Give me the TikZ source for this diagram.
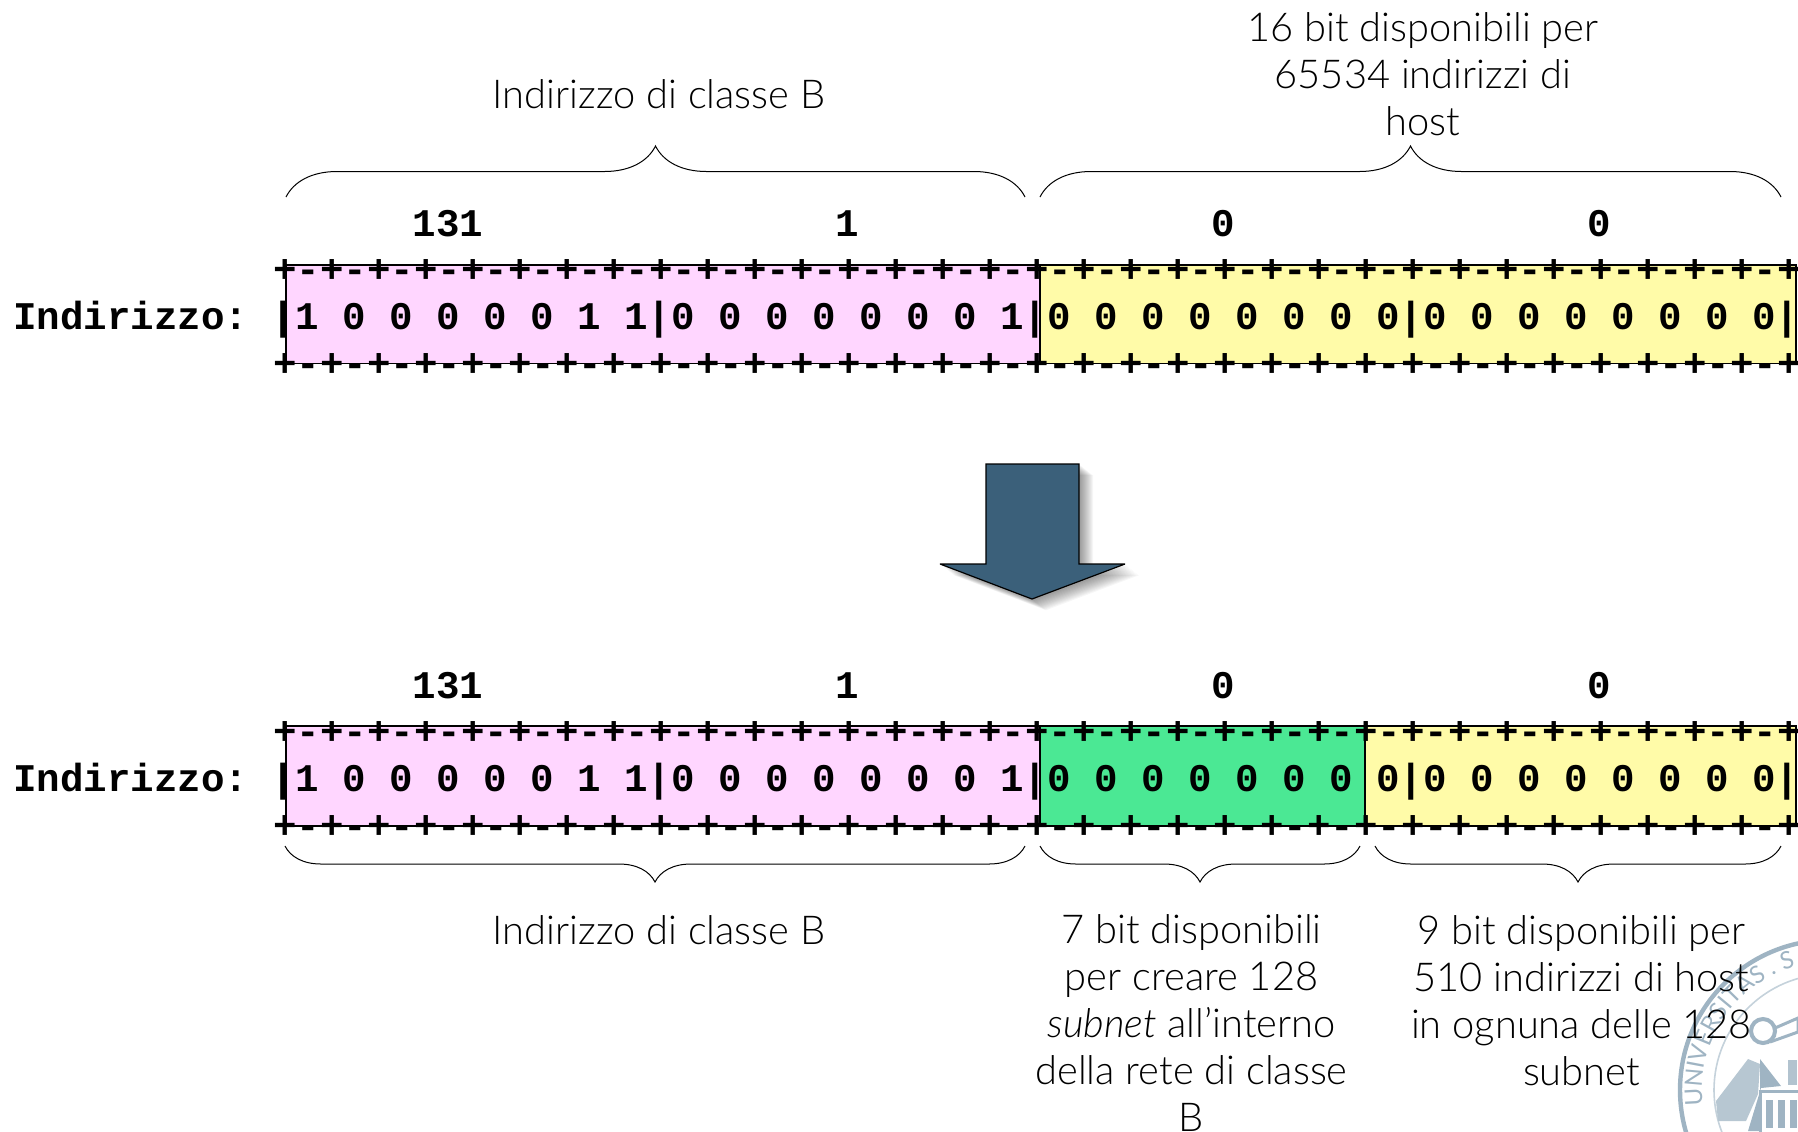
\documentclass[tikz,border=0pt]{standalone}
\usepackage{fontspec}
\setmainfont{Lato}[UprightFont=* Light, ItalicFont=* Light Italic, BoldFont=*]
\setmonofont{Liberation Mono}
\usetikzlibrary{decorations.pathreplacing,decorations.text}
\definecolor{pinkbit}{HTML}{FFD6FF}
\definecolor{yellowbit}{HTML}{FFFBA8}
\definecolor{greenbit}{HTML}{4BE894}
\definecolor{arrowblue}{HTML}{3B607A}
\definecolor{sealgray}{HTML}{9FB4C3}
\newcommand{\ticks}{+-+-+-+-+-+-+-+-+-+-+-+-+-+-+-+-+-+-+-+-+-+-+-+-+-+-+-+-+-+-+-+-+}
\newcommand{\downarrowshape}{(986,464) -- (1079,464) -- (1079,564) -- (1125,564) -- (1032,599) -- (940,564) -- (986,564) -- cycle}
\tikzset{
	mono/.style={font=\fontsize{19.58}{20}\selectfont\ttfamily\bfseries, inner sep=0, anchor=base west},
	octet/.style={font=\fontsize{19.58}{20}\selectfont\ttfamily\bfseries, inner sep=0, anchor=base},
	note/.style={font=\fontsize{19.9}{23.5}\selectfont, align=center, inner sep=0, anchor=base},
	bitbox/.style={draw=black, line width=0.6pt},
	upbrace/.style={decorate, decoration={brace, amplitude=25.5pt}, line width=0.5pt},
	downbrace/.style={decorate, decoration={brace, mirror, amplitude=18pt}, line width=0.5pt}
}
\begin{document}
\begin{tikzpicture}[x=0.5pt, y=-0.5pt]
	\useasboundingbox (0, 0) rectangle (1798, 1131);
	% seal
	\begin{scope}[shift={(1830, 1090)}, y=0.5pt]
		\draw[sealgray, line width=2.2pt] (0, 0) circle (150);
		\draw[sealgray!60, line width=0.8pt] (0, 0) circle (116);
		\path[decorate, decoration={text along path, text={|\fontsize{12}{12}\selectfont\bfseries\color{sealgray}|UNIVERSITAS . S}, text align=left}] (187:128) arc[start angle=187, end angle=95, radius=128];
		\fill[sealgray!75] (-114, -11) -- (-82, 31) -- (-70, 26) -- (-72, -4) -- (-84, -31) -- (-112, -31) -- cycle;
		\fill[sealgray] (-70, 31) -- (-49, 4) -- (-69, 2) -- (-82, -41) -- (-70, -41) -- cycle;
		\draw[sealgray, line width=1.5pt, fill=white] (-55, 62) -- (-32, 72) -- (-32, 58) -- (-60, 48);
		\draw[sealgray, line width=2pt, fill=white] (-67, 59) circle (12);
		\fill[sealgray!80] (-42, 30) rectangle (-33, 5);
		\draw[sealgray, line width=1.5pt] (-70, -1) rectangle (-30, -45);
		\foreach \i in {-64, -52, -40}
			\fill[sealgray] (\i, -10) rectangle + (7, -28);
	\end{scope}
	% boxes
	\filldraw[bitbox, fill=pinkbit] (286, 265) rectangle (1040, 363.5);
	\filldraw[bitbox, fill=yellowbit] (1040, 265) rectangle (1796, 363.5);
	\filldraw[bitbox, fill=pinkbit] (286, 726) rectangle (1040, 826);
	\filldraw[bitbox, fill=greenbit] (1040, 726) rectangle (1365, 826);
	\filldraw[bitbox, fill=yellowbit] (1365, 726) rectangle (1796, 826);
	% first address
	\node[octet] (a131) at (448, 236) {131};
	\node[octet] (a1) at (847, 236) {1};
	\node[octet] (a0) at (1223, 236) {0};
	\node[octet] (a00) at (1599, 236) {0};
	\node[mono] (atop) at (273, 282) {\ticks};
	\node[mono] (arow) at (13, 329.5) {Indirizzo: |1 0 0 0 0 0 1 1|0 0 0 0 0 0 0 1|0 0 0 0 0 0 0 0|0 0 0 0 0 0 0 0|};
	\node[mono] (abot) at (273, 376) {\ticks};
	% second address
	\node[octet] (b131) at (448, 698) {131};
	\node[octet] (b1) at (847, 698) {1};
	\node[octet] (b0) at (1223, 698) {0};
	\node[octet] (b00) at (1599, 698) {0};
	\node[mono] (btop) at (273, 744) {\ticks};
	\node[mono] (brow) at (13, 791.5) {Indirizzo: |1 0 0 0 0 0 1 1|0 0 0 0 0 0 0 1|0 0 0 0 0 0 0 0|0 0 0 0 0 0 0 0|};
	\node[mono] (bbot) at (273, 838) {\ticks};
	% braces
	\draw[upbrace] (286, 197) -- (1025, 197);
	\draw[upbrace] (1040, 197) -- (1781, 197);
	\draw[downbrace] (285, 846) -- (1025, 846);
	\draw[downbrace] (1040, 846) -- (1360, 846);
	\draw[downbrace] (1375, 846) -- (1781, 846);
	% arrow
	\foreach \i in {2, ..., 14}
		\fill[black, opacity=0.035, shift={(\i, 0.8 * \i)}] \downarrowshape;
	\filldraw[draw=black, fill=arrowblue, line width=0.6pt, line join=miter, miter limit=2] \downarrowshape;
	% notes
	\node[note] (classa) at (659, 108) {Indirizzo di classe B};
	\node[note] (hosta) at (1423, 135) {16 bit disponibili per\\65534 indirizzi di\\host};
	\node[note] (classb) at (659, 944) {Indirizzo di classe B};
	\node[note] (subnet) at (1191.5, 1131) {7 bit disponibili\\per creare 128\\\textit{subnet} all'interno\\della rete di classe\\B};
	\node[note] (hostb) at (1581.5, 1085) {9 bit disponibili per\\510 indirizzi di host\\in ognuna delle 128\\subnet};
\end{tikzpicture}
\end{document}
